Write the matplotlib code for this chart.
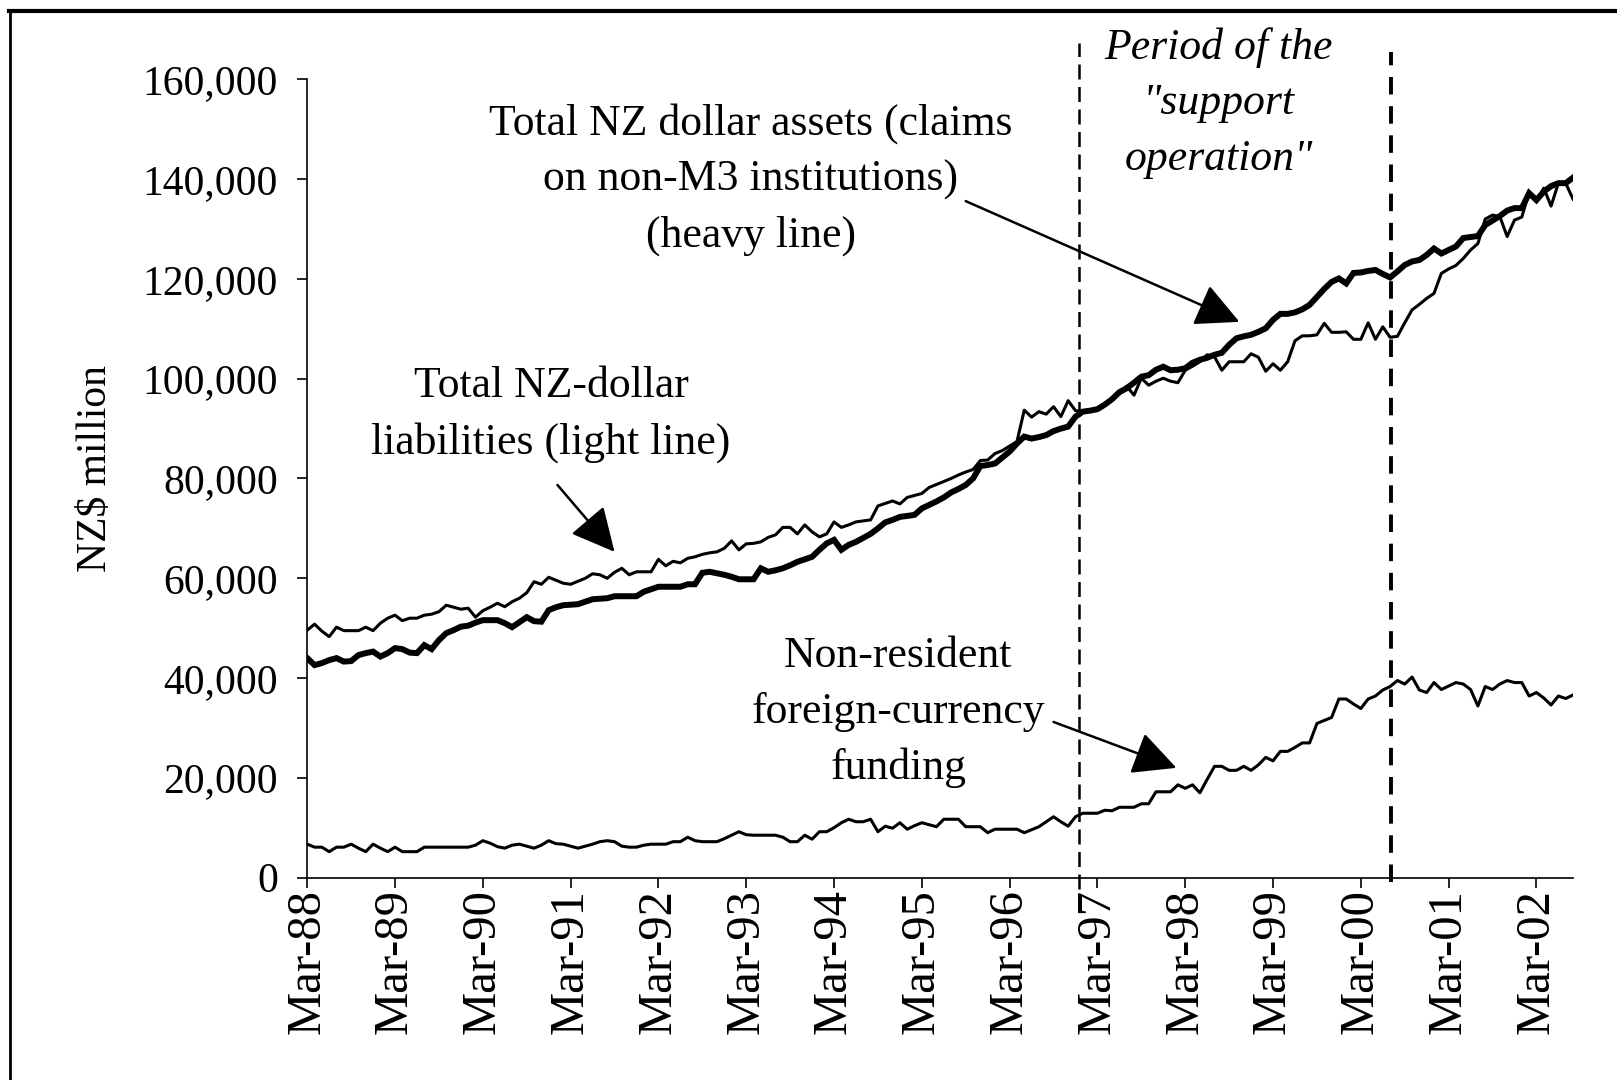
import matplotlib.pyplot as plt
from matplotlib.lines import Line2D
from matplotlib import ticker
import numpy as np

plt.rcParams['font.family'] = ['Liberation Serif', 'DejaVu Serif']

# monthly values, Mar-88 .. Aug-02 (NZ$ million)
assets = [
    44000, 42600, 43000, 43600, 44000, 43300, 43400, 44600, 45000, 45300, 44300, 45000,
    46000, 45800, 45100, 45000, 46600, 45800, 47600, 49000, 49600, 50300, 50500, 51100,
    51600, 51600, 51600, 51000, 50200, 51200, 52200, 51400, 51300, 53600, 54200, 54600,
    54700, 54800, 55300, 55800, 55900, 56000, 56400, 56400, 56400, 56400, 57300, 57800,
    58300, 58300, 58300, 58300, 58800, 58800, 61100, 61300, 61000, 60700, 60300, 59800,
    59800, 59800, 62000, 61300, 61600, 62000, 62600, 63300, 63800, 64300, 65700, 67000,
    67700, 65700, 66700, 67300, 68100, 68900, 70000, 71200, 71700, 72300, 72500, 72700,
    74000, 74700, 75400, 76200, 77200, 77900, 78700, 80000, 82500, 82700, 83000, 84200,
    85400, 87000, 88400, 88000, 88300, 88700, 89500, 90000, 90400, 92400, 93400, 93600,
    93900, 94800, 95900, 97300, 98100, 99200, 100400, 100700, 101800, 102400, 101700, 101800,
    102100, 103200, 103800, 104200, 104800, 105200, 106800, 108100, 108500, 108800, 109400, 110100,
    111800, 113000, 113000, 113300, 113900, 114800, 116400, 118000, 119400, 120100, 119100, 121200,
    121300, 121600, 121800, 121000, 120300, 121500, 122800, 123500, 123800, 124800, 126100, 125100,
    125800, 126500, 128200, 128400, 128600, 130800, 131700, 132600, 133700, 134200, 134200, 137200,
    135800, 137500, 138600, 139200, 139200, 140300,
]

liabilities = [
    49600, 50800, 49400, 48300, 50200, 49500, 49500, 49500, 50200, 49500, 51000, 52000,
    52600, 51500, 52000, 52000, 52600, 52800, 53300, 54600, 54200, 53800, 54000, 52200,
    53500, 54200, 55000, 54300, 55300, 56000, 57100, 59300, 58800, 60200, 59600, 59000,
    58800, 59400, 60000, 60900, 60700, 60000, 61200, 62000, 60700, 61300, 61300, 61300,
    63800, 62500, 63400, 63100, 64000, 64300, 64800, 65100, 65300, 66000, 67500, 65700,
    66900, 67000, 67300, 68200, 68700, 70200, 70200, 68900, 70700, 69300, 68300, 68900,
    71300, 70200, 70700, 71300, 71500, 71700, 74500, 75000, 75500, 74900, 76200, 76600,
    77000, 78200, 78800, 79400, 80000, 80700, 81300, 81800, 83600, 83700, 85000, 85600,
    86500, 87400, 93700, 92300, 93400, 92900, 94400, 92400, 95600, 93600, 93400, 93600,
    93900, 94900, 96000, 97100, 98500, 96700, 100100, 98700, 99500, 100100, 99500, 99200,
    101700, 102500, 103400, 104800, 104400, 101700, 103400, 103400, 103400, 105000, 104300, 101500,
    103000, 101700, 103400, 107600, 108600, 108600, 108800, 111100, 109300, 109300, 109400, 107900,
    107900, 111200, 107900, 110400, 108300, 108500, 111200, 113800, 114900, 116100, 117100, 121100,
    122000, 122700, 124100, 125800, 127100, 132000, 132800, 132500, 128500, 131800, 132400, 137500,
    135500, 138200, 134600, 139200, 139200, 136000,
]

nonres_fx = [
    6700, 6100, 6100, 5200, 6100, 6100, 6700, 5900, 5200, 6700, 5900, 5200,
    6100, 5200, 5200, 5200, 6100, 6100, 6100, 6100, 6100, 6100, 6100, 6500,
    7400, 6900, 6200, 5900, 6500, 6700, 6300, 5900, 6500, 7400, 6800, 6700,
    6300, 5900, 6300, 6700, 7200, 7400, 7200, 6300, 6100, 6100, 6500, 6700,
    6700, 6700, 7200, 7200, 8100, 7400, 7200, 7200, 7200, 7800, 8500, 9200,
    8600, 8500, 8500, 8500, 8500, 8100, 7200, 7200, 8500, 7700, 9200, 9200,
    10000, 11000, 11700, 11200, 11200, 11700, 9200, 10300, 9900, 11000, 9700, 10400,
    11000, 10600, 10200, 11700, 11700, 11700, 10200, 10200, 10200, 9000, 9700, 9700,
    9700, 9700, 9000, 9600, 10200, 11200, 12200, 11200, 10300, 12200, 12900, 12900,
    12900, 13500, 13400, 14100, 14100, 14100, 14800, 14800, 17200, 17200, 17200, 18600,
    17900, 18600, 17000, 19700, 22300, 22300, 21500, 21500, 22300, 21500, 22600, 24100,
    23400, 25300, 25300, 26100, 27000, 27000, 30900, 31500, 32100, 35800, 35800, 34800,
    33900, 35800, 36400, 37600, 38300, 39500, 38800, 40200, 37600, 37100, 39100, 37700,
    38400, 39100, 38800, 37700, 34400, 38300, 37700, 38800, 39500, 39100, 39100, 36400,
    37100, 36000, 34600, 36400, 35900, 36600,
]

tick_labels = ['Mar-88', 'Mar-89', 'Mar-90', 'Mar-91', 'Mar-92', 'Mar-93', 'Mar-94',
               'Mar-95', 'Mar-96', 'Mar-97', 'Mar-98', 'Mar-99', 'Mar-00', 'Mar-01',
               'Mar-02']

# support operation period (month index)
period_start = 105.5
period_end = 148.1

x = np.arange(len(assets))

fig = plt.figure(figsize=(16.17, 10.8), dpi=100)
ax = fig.add_axes([0.190, 0.1874, 0.7828, 0.7391])

ax.plot(x, assets, color='black', lw=4.3, solid_joinstyle='miter')
ax.plot(x, liabilities, color='black', lw=2.2)
ax.plot(x, nonres_fx, color='black', lw=2.2)

ax.plot([period_start, period_start], [-2300, 167300], color='black', lw=1.8,
        ls=(0, (6, 3)), clip_on=False)
ax.plot([period_end, period_end], [-800, 165500], color='black', lw=2.8,
        ls=(0, (4.5, 3)), clip_on=False)

ax.set_xlim(0, len(assets) - 1)
ax.set_ylim(0, 160000)
ax.set_yticks(np.arange(0, 160001, 20000))
ax.yaxis.set_major_formatter(ticker.FuncFormatter(lambda v, _: f'{int(v):,}'))
ax.set_xticks(np.arange(0, len(assets), 12))
ax.set_xticklabels(tick_labels, rotation=90)

for s in ['top', 'right']:
    ax.spines[s].set_visible(False)
for s in ['left', 'bottom']:
    ax.spines[s].set_linewidth(1.2)
ax.tick_params(axis='y', direction='out', length=7, width=1.2, labelsize=30, pad=14)
ax.tick_params(axis='x', direction='out', length=7, width=1.2, labelsize=35, pad=1)

fig.text(96 / 1617, 1 - 469 / 1080, 'NZ$ million', rotation=90, fontsize=30,
         ha='center', va='center')

txt = dict(fontsize=31.5, ha='center', va='center', linespacing=1.5)
ax.text(60.6, 140000, 'Total NZ dollar assets (claims\non non-M3 institutions)\n(heavy line)', **txt)
ax.text(33.3, 92800, 'Total NZ-dollar\nliabilities (light line)', **txt)
ax.text(80.8, 33200, 'Non-resident\nforeign-currency\nfunding', **txt)
ax.text(124.6, 155300, 'Period of the\n"support\noperation"', style='italic',
        clip_on=False, **txt)

arrow = dict(arrowstyle='-|>,head_length=0.6,head_width=0.3', mutation_scale=45,
             color='black', lw=1.8, shrinkA=0, shrinkB=0)
ax.annotate('', xy=(127.4, 111400), xytext=(90, 135600), arrowprops=arrow)
ax.annotate('', xy=(42, 65300), xytext=(34.2, 78700), arrowprops=arrow)
ax.annotate('', xy=(118.8, 22000), xytext=(102, 31200), arrowprops=arrow)

# frame around the chart area (top and left edges)
fig.add_artist(Line2D([9 / 1617, 1], [1 - 10.5 / 1080] * 2, transform=fig.transFigure,
                      color='black', lw=3))
fig.add_artist(Line2D([10 / 1617] * 2, [0, 1 - 10.5 / 1080], transform=fig.transFigure,
                      color='black', lw=2))

fig.savefig('out.png', dpi=100)
